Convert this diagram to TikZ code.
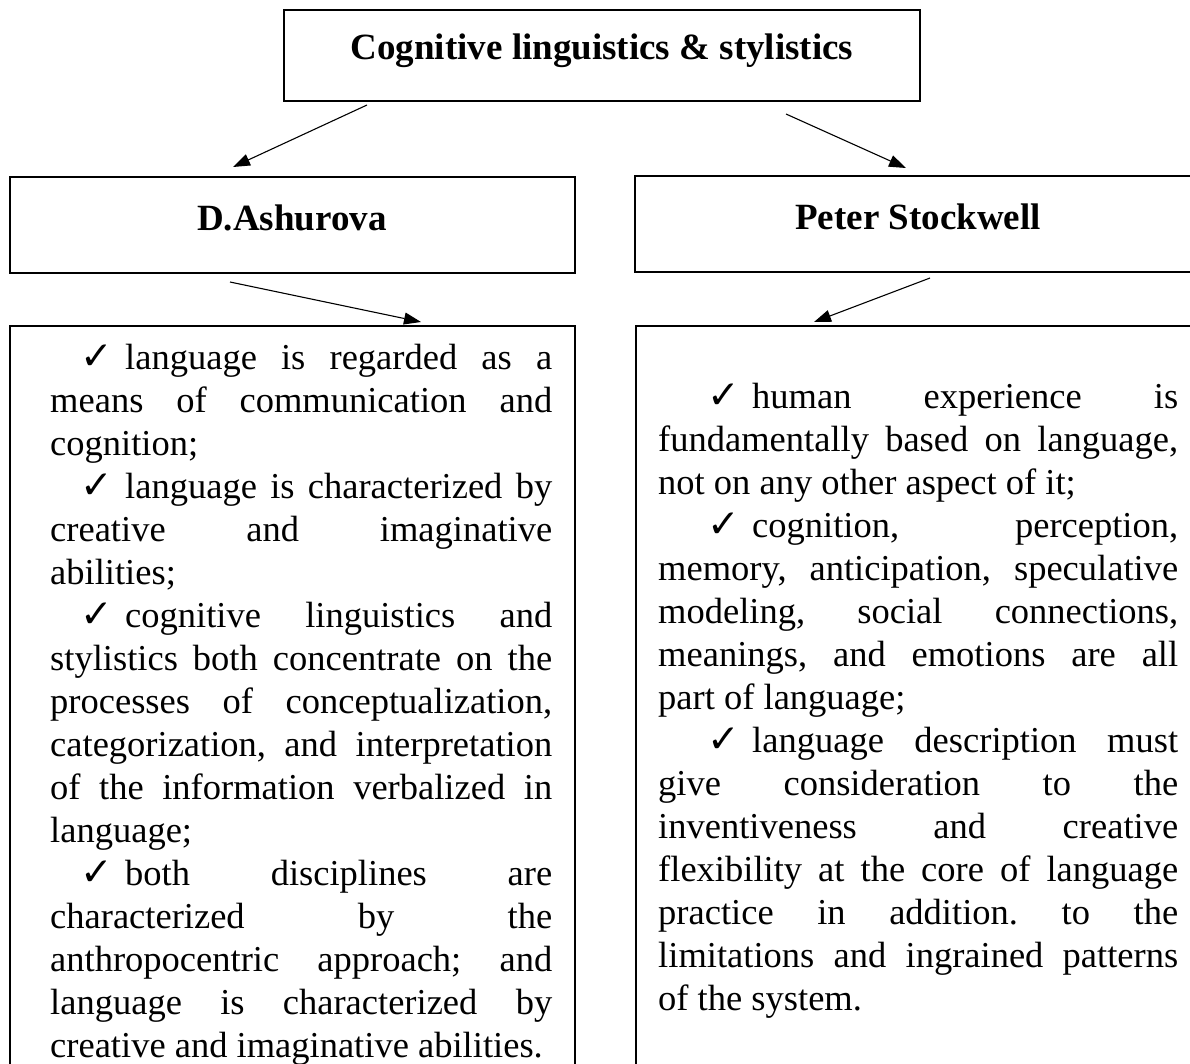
\documentclass[tikz,border=0pt]{standalone}
\usepackage{fontspec}
\setmainfont{Liberation Serif}
\newfontfamily\symf{DejaVu Sans}
\usetikzlibrary{arrows.meta}
\frenchspacing
\hbadness=10000
\hfuzz=30pt
\newcommand\chk{\makebox[45pt][l]{\symf\bfseries\fontsize{39pt}{39pt}\selectfont ✓}}
\newcommand\jline[1]{\hbox to \hsize{#1}}
\newcommand\lline[1]{\hbox to \hsize{#1\hfil}}
\newcommand\firststrut{\rule{0pt}{30pt}}
\begin{document}
\begin{tikzpicture}[x=1pt,y=-1pt,
  box/.style={draw, line width=2pt, inner sep=0pt, outer sep=0pt, anchor=north west, rectangle},
  head/.style={anchor=base, inner sep=0pt, font=\fontsize{37pt}{43pt}\selectfont\bfseries},
  body/.style={anchor=north west, inner sep=0pt, font=\fontsize{36.5pt}{43pt}\selectfont},
  conn/.style={line width=1.1pt, -{Triangle[length=17pt,width=12pt]}}]
\useasboundingbox (0,0) rectangle (1190,1063);
\fill[white] (0,0) rectangle (1190,1063);

% boxes
\node[box, minimum width=636pt, minimum height=91pt] (title) at (284,10) {};
\node[box, minimum width=565pt, minimum height=96pt] (ash) at (10,177) {};
\node[box, minimum width=567pt, minimum height=96pt] (pete) at (635,176) {};
\node[box, minimum width=565pt, minimum height=780pt] (lbox) at (10,326) {};
\node[box, minimum width=566pt, minimum height=780pt] (rbox) at (636,326) {};

% headings
\node[head] (titleT) at (602,59) {Cognitive linguistics \& stylistics};
\node[head] (ashT) at (292,230) {D.Ashurova};
\node[head] (peteT) at (918,229) {Peter Stockwell};

% left text
\node[body] (ltext) at (50,339) {\vtop{\hsize=502pt
\jline{\firststrut\kern30pt\chk language is regarded as a}
\jline{means of communication and}
\lline{cognition;}
\jline{\kern30pt\chk language is characterized by}
\jline{creative and imaginative}
\lline{abilities;}
\jline{\kern30pt\chk cognitive linguistics and}
\jline{stylistics both concentrate on the}
\jline{processes of conceptualization,}
\jline{categorization, and interpretation}
\jline{of the information verbalized in}
\lline{language;}
\jline{\kern30pt\chk both disciplines are}
\jline{characterized by the}
\jline{anthropocentric approach; and}
\jline{language is characterized by}
\lline{creative and imaginative abilities.}
}};

% right text
\node[body] (rtext) at (658,378) {\vtop{\hsize=520pt
\jline{\firststrut\kern49pt\chk human experience is}
\jline{fundamentally based on language,}
\lline{not on any other aspect of it;}
\jline{\kern49pt\chk cognition, perception,}
\jline{memory, anticipation, speculative}
\jline{modeling, social connections,}
\jline{meanings, and emotions are all}
\lline{part of language;}
\jline{\kern49pt\chk language description must}
\jline{give consideration to the}
\jline{inventiveness and creative}
\jline{flexibility at the core of language}
\jline{practice in addition. to the}
\jline{limitations and ingrained patterns}
\lline{of the system.}
}};

% connectors
\coordinate (c1s) at (367,105); \coordinate (c1e) at (233,167);
\coordinate (c2s) at (786,114); \coordinate (c2e) at (906,168);
\coordinate (c3s) at (230,282); \coordinate (c3e) at (421,322);
\coordinate (c4s) at (930,278); \coordinate (c4e) at (814,322);
\draw[conn] (c1s) -- (c1e);
\draw[conn] (c2s) -- (c2e);
\draw[conn] (c3s) -- (c3e);
\draw[conn] (c4s) -- (c4e);
\end{tikzpicture}
\end{document}
